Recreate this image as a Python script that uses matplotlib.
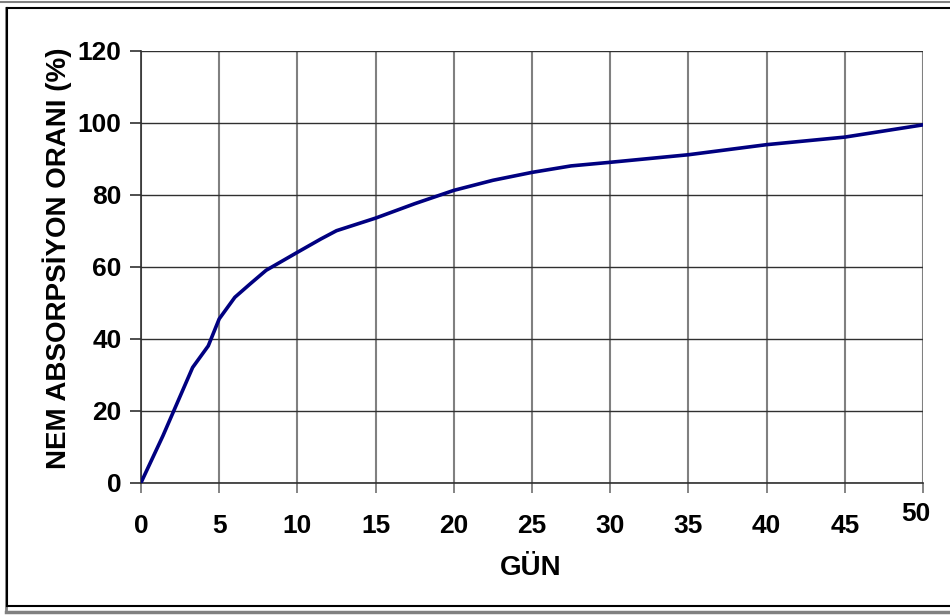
import matplotlib
matplotlib.use("Agg")
import matplotlib.pyplot as plt
from matplotlib.lines import Line2D
from matplotlib.transforms import blended_transform_factory, ScaledTranslation

# moisture absorption vs. day
days = [0, 1.4, 3.3, 4.3, 5, 6, 7, 8, 10, 11.5, 12.5, 15, 17.5, 20,
        22.5, 25, 27.5, 30, 35, 40, 45, 50]
absorption = [0, 13, 32, 38, 45.5, 51.5, 55.3, 59, 64, 67.7, 70, 73.5,
              77.5, 81.2, 84, 86.2, 88, 89, 91.1, 93.9, 96, 99.4]
x_ticks = [0, 5, 10, 15, 20, 25, 30, 35, 40, 45, 50]
y_ticks = [0, 20, 40, 60, 80, 100, 120]
x_label = "GÜN"
y_label = "NEM ABSORPSİYON ORANI (%)"

W, H = 950, 615
plt.rcParams['font.family'] = ['Liberation Sans', 'DejaVu Sans']
plt.rcParams['font.weight'] = 'bold'

fig = plt.figure(figsize=(9.5, 6.15), dpi=100)
ax = fig.add_axes([141 / W, 1 - 482.7 / H, (923 - 141) / W, (482.7 - 50.7) / H])

ax.plot(days, absorption, color='#000080', linewidth=2.6, solid_joinstyle='round',
        solid_capstyle='round', zorder=3)

ax.set_xlim(0, 50)
ax.set_ylim(0, 120)
ax.set_xticks(x_ticks)
ax.set_yticks(y_ticks)
ax.set_xticklabels([str(t) for t in x_ticks[:-1]] + [''])
ax.tick_params(axis='both', labelsize=19, width=1.2)
ax.tick_params(axis='y', length=8, pad=6, color='#303030')
ax.tick_params(axis='x', length=7, pad=15.5, color='#707070')

ax.xaxis.grid(True, color='#808080', linewidth=1.5)
ax.yaxis.grid(True, color='#303030', linewidth=1.0)
ax.set_axisbelow(True)
for side in ['top', 'right']:
    ax.spines[side].set_visible(False)
ax.spines['left'].set_color('#303030')
ax.spines['bottom'].set_color('#303030')
ax.spines['left'].set_linewidth(1.2)
ax.spines['bottom'].set_linewidth(1.2)

# last x label sits a little higher and left, as in the original
tr = blended_transform_factory(ax.transData, ax.transAxes)
tr = tr + ScaledTranslation(-7 / 100, -19 / 100, fig.dpi_scale_trans)
ax.text(x_ticks[-1], 0, str(x_ticks[-1]), transform=tr, ha='center', va='top',
        fontsize=19, fontweight='bold')

fig.text(531 / W, 1 - 568 / H, x_label, ha='center', va='center',
         fontsize=20, fontweight='bold')
fig.text(57 / W, 1 - 258 / H, y_label, ha='center', va='center',
         rotation=90, fontsize=20, fontweight='bold')

# chart border with shadow
def px_line(xs, ys, color, lw):
    fig.add_artist(Line2D([x / W for x in xs], [1 - y / H for y in ys],
                          color=color, linewidth=lw, transform=fig.transFigure))

px_line([0, W], [2, 2], '#808080', 1.5)
px_line([6, W], [612, 612], '#808080', 2.5)
px_line([6, 6], [8, 612], '#808080', 2.0)
px_line([7, W], [8, 8], 'black', 1.5)
px_line([7, W], [606, 606], 'black', 1.5)
px_line([7, 7], [8, 606], 'black', 1.5)

fig.savefig("out.png", dpi=100)
